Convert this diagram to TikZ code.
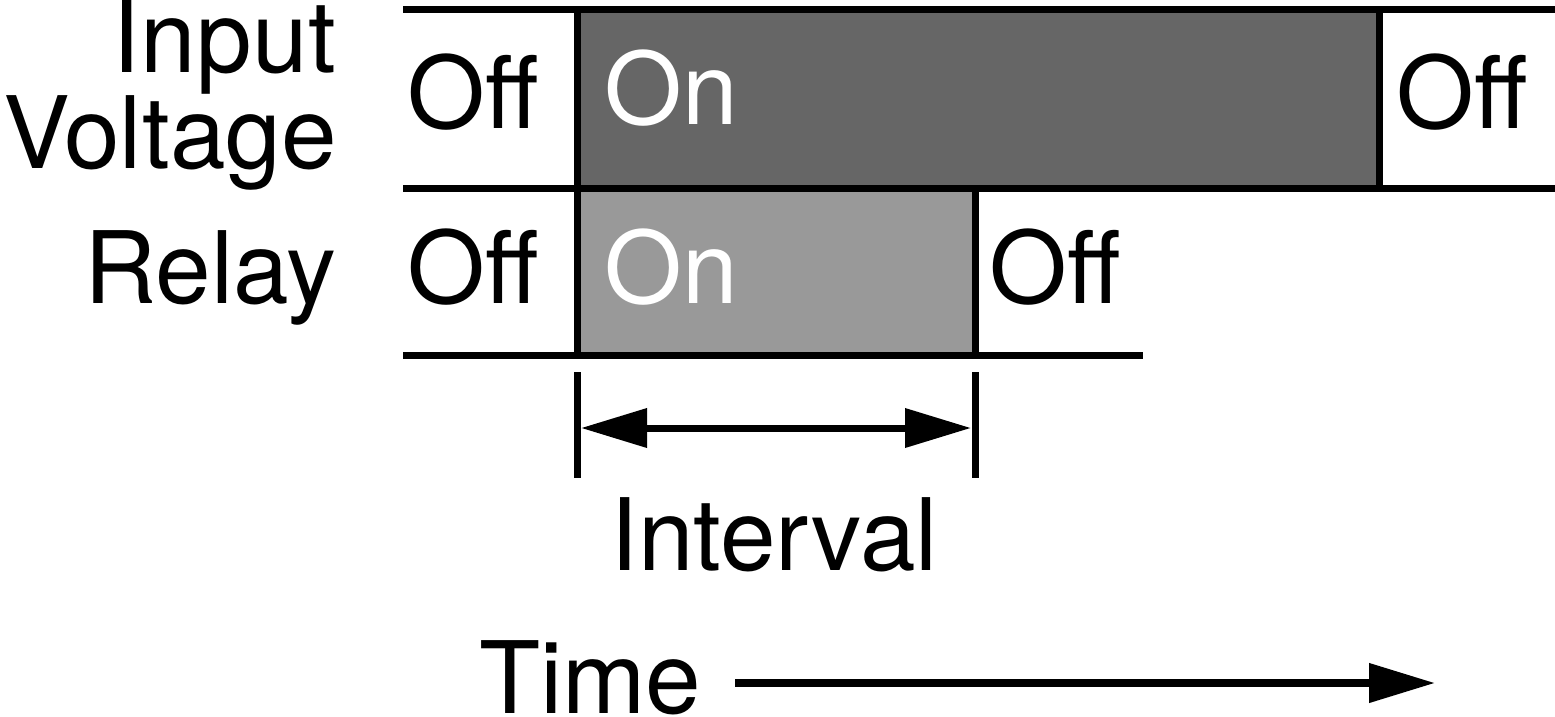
\documentclass[tikz,border=0pt]{standalone}
\usepackage{fontspec}
\setmainfont{TeX Gyre Heros}
\usetikzlibrary{arrows.meta}
\definecolor{inputfill}{HTML}{666666}
\definecolor{relayfill}{HTML}{999999}

\begin{document}
\begin{tikzpicture}[x=1pt,y=1pt,yscale=-1,xscale=1,
  wire/.style={line width=7pt},
  lbl/.style={inner sep=0pt,font=\fontsize{100}{96}\selectfont},
  tri/.tip={Triangle[length=66pt,width=38pt]}]
\useasboundingbox (0,0) rectangle (1555,716);

% Corner points
\coordinate (inTopL) at (403,9);
\coordinate (inTopR) at (1555,9);
\coordinate (midL) at (403,188);
\coordinate (midR) at (1555,188);
\coordinate (reBotL) at (403,355);
\coordinate (reBotR) at (1143,355);
\coordinate (onTop) at (577,9);
\coordinate (onBot) at (577,355);
\coordinate (inOffTop) at (1379,9);
\coordinate (inOffBot) at (1379,188);
\coordinate (reOffTop) at (975,188);
\coordinate (reOffBot) at (975,355);

%Shape: Rectangle [input on]
\fill [inputfill] (onTop) rectangle (inOffBot);
%Shape: Rectangle [relay on]
\fill [relayfill] (577,188) rectangle (reOffBot);

%Straight Lines
\draw [wire] (inTopL) -- (inTopR);
\draw [wire] (midL) -- (midR);
\draw [wire] (reBotL) -- (reBotR);
\draw [wire] (onTop) -- (onBot);
\draw [wire] (inOffTop) -- (inOffBot);
\draw [wire] (reOffTop) -- (reOffBot);

%Interval ticks
\coordinate (tickAtop) at (577,372);
\coordinate (tickAbot) at (577,478);
\coordinate (tickBtop) at (975,372);
\coordinate (tickBbot) at (975,478);
\draw [wire] (tickAtop) -- (tickAbot);
\draw [wire] (tickBtop) -- (tickBbot);
\coordinate (ivStart) at (581,428);
\coordinate (ivEnd) at (971,428);
\draw [wire,tri-tri] (ivStart) -- (ivEnd);

%Time arrow
\coordinate (timeStart) at (735,683);
\coordinate (timeEnd) at (1435,683);
\draw [line width=7.5pt,-tri] (timeStart) -- (timeEnd);

% Text Node
\node (inputLbl) [lbl,anchor=base east] at (336,72) {Input};
% Text Node
\node (voltLbl) [lbl,anchor=base east] at (337,168) {Voltage};
% Text Node
\node (relayLbl) [lbl,anchor=base east] at (337,303) {Relay};
% Text Node
\node (inOffA) [lbl,anchor=base west] at (407,128) {Off};
% Text Node
\node (inOn) [lbl,anchor=base west,text=white] at (604,124) {On};
% Text Node
\node (inOffB) [lbl,anchor=base west] at (1396,128) {Off};
% Text Node
\node (reOffA) [lbl,anchor=base west] at (407,303) {Off};
% Text Node
\node (reOn) [lbl,anchor=base west,text=white] at (604,303) {On};
% Text Node
\node (reOffB) [lbl,anchor=base west] at (989,303) {Off};
% Text Node
\node (ivLbl) [lbl,anchor=base] at (774,570) {Interval};
% Text Node
\node (timeLbl) [lbl,anchor=base west] at (479,713) {Time};
\end{tikzpicture}
\end{document}
